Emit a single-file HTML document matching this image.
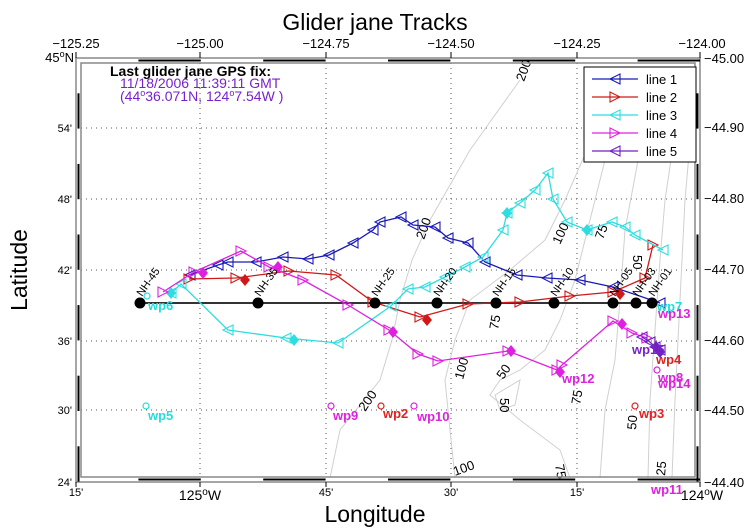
<!DOCTYPE html>
<html><head><meta charset="utf-8"><style>
html,body{margin:0;padding:0;background:#fff;}
svg{display:block;font-family:"Liberation Sans",sans-serif;}
</style></head><body>
<svg id="s" width="750" height="529" viewBox="0 0 750 529" xmlns="http://www.w3.org/2000/svg">
<rect width="750" height="529" fill="#fff"/>
<text x="375" y="30" font-size="23" text-anchor="middle">Glider jane Tracks</text>
<text x="375" y="522" font-size="23" text-anchor="middle">Longitude</text>
<text transform="translate(27,270) rotate(-90)" font-size="23" text-anchor="middle">Latitude</text>
<!-- grid -->
<g stroke="#555" stroke-width="1" stroke-dasharray="1,4">
<line x1="200" y1="63" x2="200" y2="476"/><line x1="326" y1="63" x2="326" y2="476"/><line x1="451" y1="63" x2="451" y2="476"/><line x1="577" y1="63" x2="577" y2="476"/>
<line x1="81" y1="128" x2="695" y2="128"/><line x1="81" y1="199" x2="695" y2="199"/><line x1="81" y1="270" x2="695" y2="270"/><line x1="81" y1="341" x2="695" y2="341"/><line x1="81" y1="410" x2="695" y2="410"/>
</g>
<!-- contours -->
<g fill="none" stroke="#d0d0d0" stroke-width="1">
<path d="M520,80 L470,150 L430,220 L412,260 L400,300 L392,340 L380,380 L340,430 L330,478"/>
<path d="M600,120 L565,200 L545,240 L510,270 L470,300 L455,340 L445,380 L450,430 L455,478"/>
<path d="M630,90 L605,160 L590,220 L575,280 L560,320 L545,350 L520,370 L500,380 L490,395 L520,420 L560,450 L570,478"/>
<path d="M660,70 L640,150 L625,230 L620,300 L615,360 L605,410 L600,478"/>
<path d="M680,100 L665,200 L660,260 L655,330 L650,400 L648,478"/>
<path d="M692,120 L685,200 L680,300 L675,400 L672,478"/>
<path d="M520,380 L495,395 L500,410 L515,405 Z"/>
</g>
<g font-size="13" fill="#000">
<text transform="translate(524,82) rotate(-70)">200</text>
<text transform="translate(424,240) rotate(-70)">200</text>
<text transform="translate(365,412) rotate(-55)">200</text>
<text transform="translate(560,245) rotate(-65)">100</text>
<text transform="translate(463,380) rotate(-75)">100</text>
<text transform="translate(455,476) rotate(-20)">100</text>
<text transform="translate(603,240) rotate(-70)">75</text>
<text transform="translate(498,330) rotate(-80)">75</text>
<text transform="translate(580,405) rotate(-80)">75</text>
<text transform="translate(555,465) rotate(80)">75</text>
<text transform="translate(503,380) rotate(-55)">50</text>
<text transform="translate(500,398) rotate(90)">50</text>
<text transform="translate(636,430) rotate(-85)">50</text>
<text transform="translate(633,255) rotate(90)">50</text>
<text transform="translate(665,476) rotate(-85)">25</text>
</g>
<!-- NH line -->
<line x1="140" y1="303" x2="652" y2="303" stroke="#333" stroke-width="2"/>
<g id="tracks"></g>
<g fill="#000" id="nh"></g>
<!-- waypoints -->
<g font-size="13" font-weight="bold" fill="none" stroke-width="1.2">
<circle cx="146" cy="406" r="3" stroke="#2dd"/><circle cx="331" cy="406" r="3" stroke="#d2d"/><circle cx="381" cy="406" r="3" stroke="#d22"/><circle cx="414" cy="406" r="3" stroke="#d2d"/><circle cx="635" cy="406" r="3" stroke="#d22"/><circle cx="147" cy="296" r="3" stroke="#2dd"/><circle cx="657" cy="370" r="3" stroke="#d2d"/>
</g>
<g font-size="13" font-weight="bold">
<text x="148" y="420" fill="#2dd">wp5</text><text x="333" y="420" fill="#d2d">wp9</text><text x="383" y="418" fill="#d22">wp2</text><text x="417" y="421" fill="#d2d">wp10</text><text x="639" y="418" fill="#d22">wp3</text>
<text x="651" y="494" fill="#d2d">wp11</text><text x="148" y="310" fill="#2dd">wp6</text><text x="562" y="383" fill="#d2d">wp12</text>
<text x="657" y="311" fill="#2dd">wp7</text><text x="658" y="318" fill="#d2d">wp13</text><text x="632" y="354" fill="#72c">wp15</text>
<text x="656" y="364" fill="#d22">wp4</text><text x="658" y="382" fill="#d2d">wp8</text><text x="658" y="388" fill="#d2d">wp14</text>
</g>
<!-- frame -->
<g fill="none" stroke="#000">
<rect x="76" y="58" width="624" height="424" stroke="#888" stroke-width="1.5"/>
<rect x="81" y="63" width="614" height="414" stroke="#888" stroke-width="1.5"/>
</g>
<g id="frame" stroke="#000" stroke-width="2"></g>
<!-- axis labels -->
<g font-size="13" text-anchor="middle">
<text x="76" y="48">−125.25</text><text x="200" y="48">−125.00</text><text x="326" y="48">−124.75</text><text x="451" y="48">−124.50</text><text x="577" y="48">−124.25</text><text x="702" y="48">−124.00</text>
</g>
<g font-size="13">
<text x="704" y="63">−45.00</text><text x="704" y="132">−44.90</text><text x="704" y="203">−44.80</text><text x="704" y="274">−44.70</text><text x="704" y="345">−44.60</text><text x="704" y="415">−44.50</text><text x="704" y="487">−44.40</text>
</g>
<g font-size="11" text-anchor="end">
<text x="74" y="62" font-size="13">45<tspan dy="-5" font-size="9">o</tspan><tspan dy="5">N</tspan></text>
<text x="72" y="132">54'</text><text x="72" y="203">48'</text><text x="72" y="274">42'</text><text x="72" y="345">36'</text><text x="72" y="414">30'</text><text x="72" y="486">24'</text>
</g>
<g font-size="11" text-anchor="middle">
<text x="76" y="496">15'</text><text x="326" y="496">45'</text><text x="451" y="496">30'</text><text x="577" y="496">15'</text>
<text x="200" y="500" font-size="14">125<tspan dy="-5" font-size="10">o</tspan><tspan dy="5">W</tspan></text>
<text x="702" y="500" font-size="14">124<tspan dy="-5" font-size="10">o</tspan><tspan dy="5">W</tspan></text>
</g>
<g stroke="#000"><line x1="76" y1="482" x2="76" y2="487"/><line x1="200" y1="482" x2="200" y2="487"/><line x1="326" y1="482" x2="326" y2="487"/><line x1="451" y1="482" x2="451" y2="487"/><line x1="577" y1="482" x2="577" y2="487"/><line x1="700" y1="482" x2="700" y2="487"/>
<line x1="76" y1="58" x2="76" y2="52"/><line x1="200" y1="58" x2="200" y2="52"/><line x1="326" y1="58" x2="326" y2="52"/><line x1="451" y1="58" x2="451" y2="52"/><line x1="577" y1="58" x2="577" y2="52"/><line x1="700" y1="58" x2="700" y2="52"/></g>
<!-- annotation -->
<text x="110" y="76" font-size="14" font-weight="bold">Last glider jane GPS fix:</text>
<text x="120" y="88" font-size="14" fill="#72c">11/18/2006 11:39:11 GMT</text>
<text x="120" y="101" font-size="14" fill="#72c">(44<tspan dy="-5" font-size="9">o</tspan><tspan dy="5">36.071N, 124</tspan><tspan dy="-5" font-size="9">o</tspan><tspan dy="5">7.54W )</tspan></text>
<!-- legend -->
<rect x="584" y="67" width="112" height="95" fill="#fff" stroke="#000" stroke-width="1"/>
<g id="leg" font-size="13"></g>
</svg>
<script>
const NS="http://www.w3.org/2000/svg";
function el(p,t,a){const e=document.createElementNS(NS,t);for(const k in a)e.setAttribute(k,a[k]);p.appendChild(e);return e;}
const tr=document.getElementById('tracks');
function tri(g,x,y,c,dir){const s=5;let pts=dir<0?`${x-s},${y} ${x+s},${y-s} ${x+s},${y+s}`:`${x+s},${y} ${x-s},${y-s} ${x-s},${y+s}`;el(g,'polygon',{points:pts,fill:'none',stroke:c,'stroke-width':1.1});}
function dia(g,x,y,c){el(g,'polygon',{points:`${x},${y-6} ${x+5},${y} ${x},${y+6} ${x-5},${y}`,fill:c});}
function track(pts,c,dir,dias){el(tr,'polyline',{points:pts.map(p=>p.join(',')).join(' '),fill:'none',stroke:c,'stroke-width':1.3});pts.forEach(p=>tri(tr,p[0],p[1],c,dir));(dias||[]).forEach(p=>dia(tr,p[0],p[1],c));}
const blue='#1a1ab8',red='#d01818',cyan='#2fdde0',mag='#e020e0',pur='#7020c0';
track([[190,275],[218,265],[228,262],[256,262],[283,257],[308,259],[329,255],[353,243],[373,230],[380,222],[401,217],[413,225],[435,227],[448,238],[468,243],[485,262],[517,275],[547,278],[580,280],[613,287],[660,303]],blue,-1);
track([[189,279],[236,278],[289,271],[336,275],[373,302],[420,317],[468,304],[520,302],[570,296],[613,292],[645,278],[653,245]],red,1,[[245,280],[427,320],[620,294]]);
track([[171,293],[181,284],[228,330],[286,338],[338,343],[391,306],[408,289],[425,287],[445,277],[465,267],[483,257],[503,230],[507,213],[520,203],[535,190],[548,173],[553,199],[567,222],[587,230],[612,222],[625,227],[635,235],[663,250]],cyan,-1,[[171,293],[294,340],[507,213],[587,230]]);
track([[163,292],[194,272],[241,251],[269,267],[303,280],[348,305],[389,330],[418,354],[438,361],[508,351],[557,370],[562,365],[613,321],[632,333],[647,338]],mag,1,[[203,273],[278,267],[393,332],[511,351],[560,372],[622,324]]);
track([[642,337],[650,342],[655,347],[660,350]],pur,-1,[[656,347],[660,352]]);
const nh=document.getElementById('nh');
[[140,'NH-45'],[258,'NH-35'],[375,'NH-25'],[437,'NH-20'],[496,'NH-15'],[554,'NH-10'],[613,'NH-05'],[636,'NH-03'],[652,'NH-01']].forEach(([x,l])=>{el(nh,'circle',{cx:x,cy:303,r:5.5});const t=el(nh,'text',{transform:`translate(${x+2},297) rotate(-55)`,'font-size':11});t.textContent=l;});
// frame alternating
const f=document.getElementById('frame');
for(let i=0;i<10;i++){const x0=76+i*62.4;if(i%2==1){el(f,'line',{x1:x0,y1:60.5,x2:x0+62.4,y2:60.5});el(f,'line',{x1:x0,y1:479.5,x2:x0+62.4,y2:479.5});}}
for(let i=0;i<12;i++){const y0=58+i*35.3;if(i%2==1){el(f,'line',{x1:78.5,y1:y0,x2:78.5,y2:y0+35.3});el(f,'line',{x1:697.5,y1:y0,x2:697.5,y2:y0+35.3});}}
const lg=document.getElementById('leg');
[[blue,-1,'line 1'],[red,1,'line 2'],[cyan,-1,'line 3'],[mag,1,'line 4'],[pur,-1,'line 5']].forEach(([c,d,l],i)=>{const y=79+i*18;el(lg,'line',{x1:592,y1:y,x2:638,y2:y,stroke:c,'stroke-width':1.3});tri(lg,615,y,c,d);const t=el(lg,'text',{x:646,y:y+5});t.textContent=l;});
</script>
</body></html>
